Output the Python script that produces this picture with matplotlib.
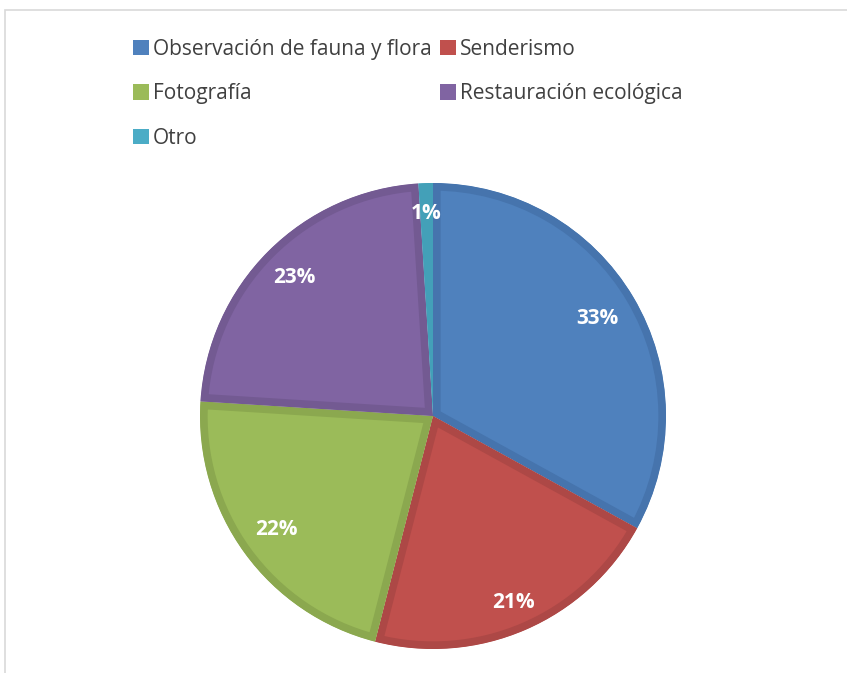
import numpy as np
import matplotlib.pyplot as plt
from matplotlib.patches import Rectangle

# data
labels = ['Observación de fauna y flora', 'Senderismo', 'Fotografía',
          'Restauración ecológica', 'Otro']
values = [33, 21, 22, 23, 1]
colors = ['#4F81BD', '#C0504D', '#9BBB59', '#8064A2', '#4BACC6']
edges = ['#4674AD', '#AD4846', '#8BA84F', '#735A92', '#43A0B8']
# label distance from centre (fraction of radius), Excel "best fit" look
label_dist = [0.82, 0.87, 0.83, 0.84, 0.87]

plt.rcParams['font.family'] = ['Liberation Sans Narrow', 'Open Sans', 'DejaVu Sans']

fig = plt.figure(figsize=(8.47, 6.73), dpi=100)

# chart area border (only top and left visible in reference)
fig.patches.append(Rectangle((5 / 847, -0.1), 1.2, (673 - 10) / 673 + 0.1,
                             transform=fig.transFigure, fill=False,
                             edgecolor='#D9D9D9', linewidth=1.2))

# pie: center ~ (433, 416) px, radius ~ 233 px
r_px = 233
ax = fig.add_axes([(433 - r_px) / 847, (673 - 416 - r_px) / 673,
                   2 * r_px / 847, 2 * r_px / 673])
wedges, _, autotexts = ax.pie(values, colors=colors, startangle=90, counterclock=False,
                              autopct='%1.0f%%', radius=1.0,
                              wedgeprops=dict(linewidth=11, joinstyle='miter'),
                              textprops=dict(color='white', fontsize=15, fontweight='bold'))
# darker inner border like Excel: stroke clipped to the wedge itself
for w, ec in zip(wedges, edges):
    w.set_edgecolor(ec)
    w.set_clip_on(True)
    w.set_clip_path(w)
for w, t, d in zip(wedges, autotexts, label_dist):
    mid = np.deg2rad((w.theta1 + w.theta2) / 2)
    t.set_position((d * np.cos(mid), d * np.sin(mid)))
ax.set_aspect('equal')
ax.set_xlim(-1, 1)
ax.set_ylim(-1, 1)
ax.axis('off')

# row-major legend order like the reference
order = [0, 2, 4, 1, 3]
leg = fig.legend([wedges[i] for i in order], [labels[i] for i in order],
                 loc='upper left', bbox_to_anchor=(133 / 847, 1 - 39 / 673),
                 ncol=2, frameon=False, fontsize=15, handlelength=0.75, handleheight=0.75,
                 handletextpad=0.2, columnspacing=0.4, labelspacing=1.12,
                 borderpad=0, borderaxespad=0)
for t in leg.get_texts():
    t.set_color('#404040')
for h in leg.legend_handles:
    h.set_linewidth(0)
    h.set_clip_path(None)

fig.savefig('out.png', dpi=100)
